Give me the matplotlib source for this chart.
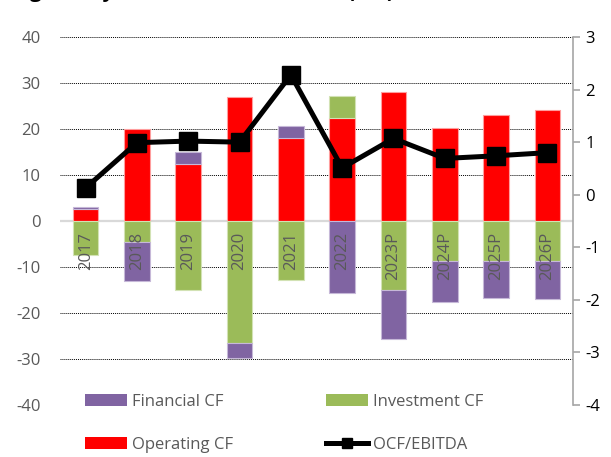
import matplotlib
matplotlib.use("Agg")
import matplotlib.pyplot as plt
from matplotlib.patches import Patch
from matplotlib.lines import Line2D
import numpy as np

plt.rcParams['font.family'] = ['Open Sans', 'DejaVu Sans']
plt.rcParams['axes.unicode_minus'] = False

years = ["2017", "2018", "2019", "2020", "2021", "2022", "2023P", "2024P", "2025P", "2026P"]
operating_cf = [2.6, 20.0, 12.3, 27.0, 18.1, 22.3, 28.0, 20.3, 23.0, 24.2]
investment_cf = [-7.4, -4.5, -15.0, -26.5, -12.9, 4.9, -15.0, -8.7, -8.7, -8.7]
financial_cf = [0.4, -8.5, 2.7, -3.2, 2.5, -15.6, -10.6, -8.9, -8.1, -8.3]
ocf_ebitda = [0.13, 0.99, 1.02, 1.00, 2.28, 0.51, 1.07, 0.69, 0.74, 0.80]

RED = "#FF0000"
GREEN = "#9BBB59"
PURPLE = "#8064A2"
GRAY_TXT = "#595959"

fig = plt.figure(figsize=(6.11, 4.57), dpi=100)
ax = fig.add_axes([60 / 611, 1 - 405 / 457, 513 / 611, 368 / 457])

x = np.arange(len(years))
w = 0.5

# stack positives and negatives separately: operating, investment, financial
pos_base = np.zeros(len(years))
neg_base = np.zeros(len(years))
series = [(operating_cf, RED, "#ff9d9d"), (investment_cf, GREEN, "#d2e2b4"),
          (financial_cf, PURPLE, "#c6b8d8")]
for vals, col, edge in series:
    vals = np.asarray(vals, dtype=float)
    base = np.where(vals >= 0, pos_base, neg_base)
    ax.bar(x, vals, w, bottom=base, color=col, edgecolor=edge, linewidth=0.8, zorder=3)
    pos_base = pos_base + np.where(vals >= 0, vals, 0)
    neg_base = neg_base + np.where(vals < 0, vals, 0)

ax.set_xlim(-0.5, len(years) - 0.5)
ax.set_ylim(-40, 40)
ax.set_yticks(np.arange(-40, 41, 10))
for yv in np.arange(-40, 41, 10):
    if yv != 0:
        ax.axhline(yv, color="black", linestyle=(0, (1, 1)), linewidth=0.7, zorder=1)
ax.axhline(0, color="#d9d9d9", linewidth=1.6, zorder=2)

ax.tick_params(axis="y", length=0, pad=14, labelsize=12, labelcolor=GRAY_TXT)
ax.set_xticks([])
for s in ax.spines.values():
    s.set_visible(False)

for i, lab in enumerate(years):
    ax.text(x[i], -2.3, lab, rotation=90, ha="center", va="top",
            fontsize=12, color=GRAY_TXT, zorder=5)

ax2 = ax.twinx()
ax2.set_ylim(-4, 3)
ax2.set_yticks(np.arange(-4, 4, 1))
ax2.plot(x, ocf_ebitda, color="black", linewidth=3.6, marker="s", markersize=13,
         zorder=6)
for k, s in ax2.spines.items():
    s.set_visible(k == "right")
ax2.spines["right"].set_color("#a6a6a6")
ax2.spines["right"].set_linewidth(1.2)
ax2.tick_params(axis="y", length=5, width=1.2, color="#a6a6a6", pad=4,
                labelsize=12, labelcolor="black")
ax2.set_xticks([])

# title sits above the top edge of the canvas, only its descenders show
fig.text(12 / 611, 1.0 + 3 / 457, "Fig. 1: Key cash flow statements (€m)",
         fontsize=15, fontweight="bold", va="baseline", ha="left")

h_fin = Patch(facecolor=PURPLE)
h_inv = Patch(facecolor=GREEN)
h_op = Patch(facecolor=RED)
h_ratio = Line2D([0], [0], color="black", linewidth=3.6, marker="s", markersize=7)
# legend fills column by column
leg = fig.legend([h_fin, h_op, h_inv, h_ratio],
                 ["Financial CF", "Operating CF", "Investment CF", "OCF/EBITDA"],
                 ncol=2, loc="upper left",
                 bbox_to_anchor=(85 / 611, 1 - 394 / 457), frameon=False,
                 fontsize=12, handlelength=2.5, handleheight=0.72,
                 handletextpad=0.3, columnspacing=5.6, labelspacing=1.62,
                 borderpad=0, borderaxespad=0)
for t in leg.get_texts():
    t.set_color(GRAY_TXT)

fig.savefig("out.png", dpi=100)
